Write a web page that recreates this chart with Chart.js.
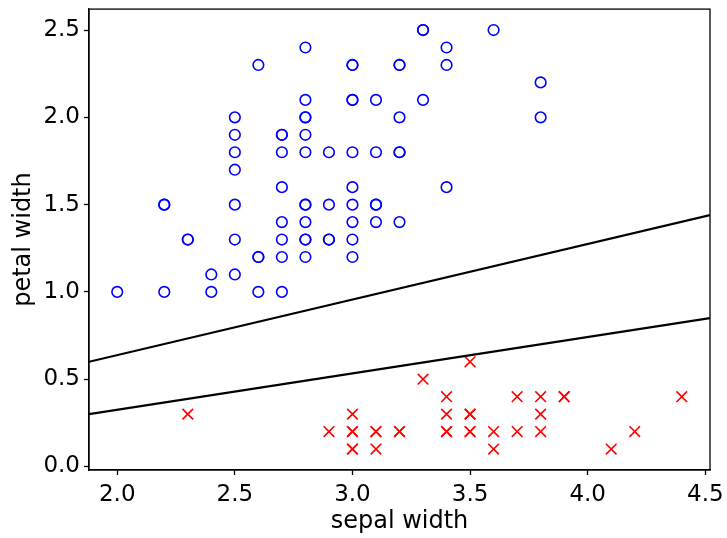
<!DOCTYPE html>
<html>
<head>
<meta charset="utf-8">
<script src="https://cdn.jsdelivr.net/npm/chart.js@4.4.1/dist/chart.umd.min.js"></script>
<style>
  html, body { margin: 0; padding: 0; background: #fff; }
  #wrap { width: 727px; height: 538px; }
</style>
</head>
<body>
<div id="wrap"><canvas id="grafico" width="727" height="538"></canvas></div>
<script>
// ---------------- DADOS ----------------
// blue circles (sepal width, petal width)
const blueX = [2.0, 2.2, 2.2, 2.2, 2.3, 2.3, 2.4, 2.4,
  2.5, 2.5, 2.5, 2.5, 2.5, 2.5, 2.5,
  2.6, 2.6, 2.6, 2.6,
  2.7, 2.7, 2.7, 2.7, 2.7, 2.7, 2.7, 2.7,
  2.8, 2.8, 2.8, 2.8, 2.8, 2.8, 2.8, 2.8, 2.8, 2.8, 2.8, 2.8,
  2.9, 2.9, 2.9, 2.9,
  3.0, 3.0, 3.0, 3.0, 3.0, 3.0, 3.0, 3.0, 3.0, 3.0,
  3.1, 3.1, 3.1, 3.1, 3.1,
  3.2, 3.2, 3.2, 3.2, 3.2, 3.2,
  3.3, 3.3, 3.3,
  3.4, 3.4, 3.4,
  3.6, 3.8, 3.8];
const blueY = [1.0, 1.5, 1.5, 1.0, 1.3, 1.3, 1.1, 1.0,
  2.0, 1.9, 1.8, 1.7, 1.5, 1.3, 1.1,
  2.3, 1.2, 1.2, 1.0,
  1.9, 1.9, 1.8, 1.6, 1.4, 1.3, 1.2, 1.0,
  2.4, 2.1, 2.0, 2.0, 1.9, 1.8, 1.5, 1.4, 1.3, 1.3, 1.2, 1.5,
  1.8, 1.5, 1.3, 1.3,
  2.3, 2.3, 2.1, 2.1, 1.8, 1.6, 1.5, 1.4, 1.3, 1.2,
  2.1, 1.8, 1.5, 1.5, 1.4,
  2.3, 2.3, 2.0, 1.8, 1.8, 1.4,
  2.5, 2.5, 2.1,
  2.4, 2.3, 1.6,
  2.5, 2.2, 2.0];

// red crosses
const redX = [2.3, 2.9, 3.0, 3.0, 3.0, 3.0, 3.0, 3.1, 3.1, 3.1, 3.2, 3.2, 3.3,
  3.4, 3.4, 3.4, 3.4, 3.5, 3.5, 3.5, 3.5, 3.5, 3.6, 3.6, 3.7, 3.7,
  3.8, 3.8, 3.8, 3.9, 3.9, 4.1, 4.2, 4.4];
const redY = [0.3, 0.2, 0.3, 0.2, 0.2, 0.1, 0.1, 0.2, 0.2, 0.1, 0.2, 0.2, 0.5,
  0.4, 0.3, 0.2, 0.2, 0.6, 0.3, 0.3, 0.2, 0.2, 0.2, 0.1, 0.4, 0.2,
  0.4, 0.3, 0.2, 0.4, 0.4, 0.1, 0.2, 0.4];

// decision lines (ends at the axis limits)
const lineX = [1.88, 4.52];
const upperY = [0.60, 1.44];
const lowerY = [0.30, 0.85];

// ---------------- EIXOS ----------------
const xLimits = [1.88, 4.52];
const yLimits = [-0.02, 2.62];
const xTicks = [2.0, 2.5, 3.0, 3.5, 4.0, 4.5];
const yTicks = [0.0, 0.5, 1.0, 1.5, 2.0, 2.5];

function pares(xs, ys) {
  return xs.map((x, i) => ({ x: x, y: ys[i] }));
}

// moldura (spines de cima e da direita)
const moldura = {
  id: "moldura",
  afterDraw(chart) {
    const { ctx, chartArea: a } = chart;
    ctx.save();
    ctx.strokeStyle = "#000";
    ctx.lineWidth = 1.3;
    ctx.strokeRect(a.left, a.top, a.right - a.left, a.bottom - a.top);
    ctx.restore();
  }
};

const fonteTicks = { family: "'DejaVu Sans', sans-serif", size: 23 };
const fonteTitulo = { family: "'DejaVu Sans', sans-serif", size: 24 };

new Chart(document.getElementById("grafico"), {
  type: "scatter",
  data: {
    datasets: [
      {
        data: pares(lineX, upperY),
        showLine: true,
        borderColor: "#000",
        borderWidth: 2.2,
        pointRadius: 0
      },
      {
        data: pares(lineX, lowerY),
        showLine: true,
        borderColor: "#000",
        borderWidth: 2.2,
        pointRadius: 0
      },
      {
        data: pares(blueX, blueY),
        pointStyle: "circle",
        pointRadius: 5.3,
        pointBorderWidth: 1.6,
        borderColor: "#0000ff",
        backgroundColor: "rgba(0,0,0,0)"
      },
      {
        data: pares(redX, redY),
        pointStyle: "crossRot",
        pointRadius: 7.5,
        pointBorderWidth: 1.6,
        borderColor: "#ff0000",
        backgroundColor: "#ff0000"
      }
    ]
  },
  options: {
    responsive: false,
    animation: false,
    devicePixelRatio: 1,
    layout: { padding: { left: 0, top: 8, right: 17, bottom: 0 } },
    plugins: { legend: { display: false }, tooltip: { enabled: false } },
    scales: {
      x: {
        type: "linear",
        min: xLimits[0],
        max: xLimits[1],
        afterBuildTicks: (s) => { s.ticks = xTicks.map(v => ({ value: v })); },
        afterFit: (s) => { s.height = 68; s.paddingLeft = 0; s.paddingRight = 0; },
        grid: { drawOnChartArea: false, drawTicks: true, tickLength: 5, tickWidth: 1.3, color: "#000" },
        border: { display: true, color: "#000", width: 1.3 },
        ticks: {
          color: "#000",
          font: fonteTicks,
          padding: 6,
          maxRotation: 0,
          callback: (v) => Number(v).toFixed(1)
        },
        title: {
          display: true,
          text: "sepal width",
          color: "#000",
          font: fonteTitulo,
          padding: { top: 0, bottom: 2 }
        }
      },
      y: {
        type: "linear",
        min: yLimits[0],
        max: yLimits[1],
        afterBuildTicks: (s) => { s.ticks = yTicks.map(v => ({ value: v })); },
        afterFit: (s) => { s.width = 89; s.paddingTop = 0; s.paddingBottom = 0; },
        grid: { drawOnChartArea: false, drawTicks: true, tickLength: 5, tickWidth: 1.3, color: "#000" },
        border: { display: true, color: "#000", width: 1.3 },
        ticks: {
          color: "#000",
          font: fonteTicks,
          padding: 4,
          callback: (v) => Number(v).toFixed(1)
        },
        title: {
          display: true,
          text: "petal width",
          color: "#000",
          font: fonteTitulo,
          padding: { top: 9, bottom: 0 }
        }
      }
    }
  },
  plugins: [moldura]
});
</script>
</body>
</html>
